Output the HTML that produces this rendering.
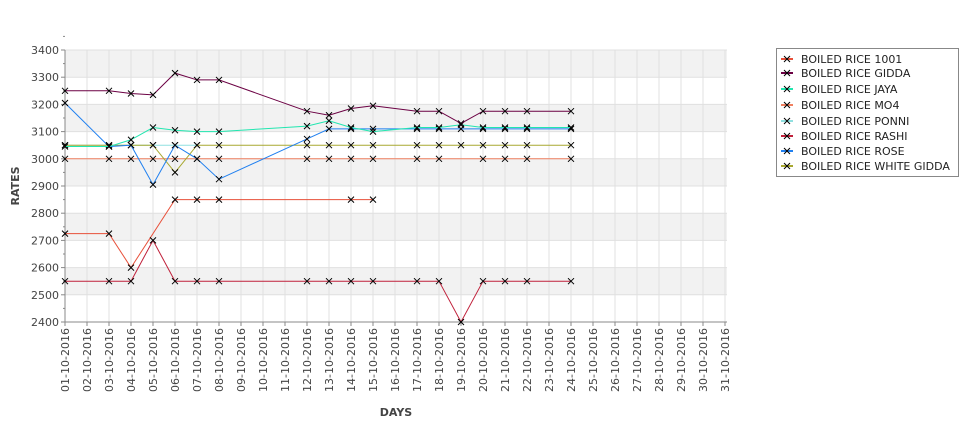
<!DOCTYPE html>
<html><head><meta charset="utf-8"><style>
html,body{margin:0;padding:0;background:#fff;}
svg{display:block;font-family:"DejaVu Sans","Liberation Sans",sans-serif;}
</style></head><body>
<svg id="chart" width="975" height="429"></svg>
<script>
const days = ["01","02","03","04","05","06","07","08","09","10","11","12","13","14","15","16","17","18","19","20","21","22","23","24","25","26","27","28","29","30","31"];
const yTicks = [2400,2500,2600,2700,2800,2900,3000,3100,3200,3300,3400];
const seriesNames = ["BOILED RICE 1001","BOILED RICE GIDDA","BOILED RICE JAYA","BOILED RICE MO4","BOILED RICE PONNI","BOILED RICE RASHI","BOILED RICE ROSE","BOILED RICE WHITE GIDDA"];
const seriesColors = ["#e8503a","#6b0043","#22e6b0","#f08060","#90e0e0","#c0203a","#2080f0","#a8a830"];
const s1001Days = [1,3,4,6,7,8,14,15];
const s1001Vals = [2725,2725,2600,2850,2850,2850,2850,2850];
const giddaDays = [1,3,4,5,6,7,8,12,13,14,15,17,18,19,20,21,22,24];
const giddaVals = [3250,3250,3240,3235,3315,3290,3290,3175,3160,3185,3195,3175,3175,3130,3175,3175,3175,3175];
const jayaDays = [1,3,4,5,6,7,8,12,13,14,15,17,18,19,20,21,22,24];
const jayaVals = [3045,3045,3070,3115,3105,3100,3100,3120,3140,3115,3100,3115,3115,3125,3115,3115,3115,3115];
const mo4Days = [1,3,4,5,6,7,8,12,13,14,15,17,18,20,21,22,24];
const mo4Vals = [3000,3000,3000,3000,3000,3000,3000,3000,3000,3000,3000,3000,3000,3000,3000,3000,3000];
const ponniDays = [1,3,4,5,6,7];
const ponniVals = [3050,3050,3050,3050,3050,3050];
const rashiDays = [1,3,4,5,6,7,8,12,13,14,15,17,18,19,20,21,22,24];
const rashiVals = [2550,2550,2550,2700,2550,2550,2550,2550,2550,2550,2550,2550,2550,2400,2550,2550,2550,2550];
const roseDays = [1,3,4,5,6,7,8,12,13,14,15,17,18,19,20,21,22,24];
const roseVals = [3205,3045,3050,2905,3050,3000,2925,3073,3110,3110,3110,3110,3110,3110,3110,3110,3110,3110];
const wgDays = [1,3,4,5,6,7,8,12,13,14,15,17,18,19,20,21,22,24];
const wgVals = [3050,3050,3050,3050,2950,3050,3050,3050,3050,3050,3050,3050,3050,3050,3050,3050,3050,3050];
const allDays=[s1001Days,giddaDays,jayaDays,mo4Days,ponniDays,rashiDays,roseDays,wgDays];
const allVals=[s1001Vals,giddaVals,jayaVals,mo4Vals,ponniVals,rashiVals,roseVals,wgVals];

const NS="http://www.w3.org/2000/svg";
const svg=document.getElementById('chart');
const L=65,R=727,T=50,B=322;
function xs(d){return L+(d-1)*22;}
function ys(v){return B-(v-2400)/1000*(B-T);}
function mk(tag,attrs,parent){const e=document.createElementNS(NS,tag);for(const k in attrs)e.setAttribute(k,attrs[k]);(parent||svg).appendChild(e);return e;}

const plot=mk('g',{});


for(let i=0;i<yTicks.length-1;i++){
  if((yTicks[i]/100)%2===1){
    const r=mk('rect',{x:L,y:ys(yTicks[i+1]),width:R-L,height:ys(yTicks[i])-ys(yTicks[i+1]),fill:'#f2f2f2'},plot);
    
    
  }
}
yTicks.forEach(v=>{
  const g=mk('line',{x1:L,x2:R,y1:ys(v),y2:ys(v),stroke:'#e0e0e0','stroke-width':1},plot);
  
  
  const t=mk('line',{x1:L-4,x2:L,y1:ys(v),y2:ys(v),stroke:'#888'});
  
  
  const m=mk('line',{x1:L-2,x2:L,y1:ys(v+50),y2:ys(v+50),stroke:'#888'});
  
  
  const lb=mk('text',{x:L-6,y:ys(v)+4,'text-anchor':'end','font-size':11,fill:'#444'});
  lb.textContent=v;
  
  
});
days.forEach((d,i)=>{
  const x=xs(i+1);
  const g=mk('line',{x1:x,x2:x,y1:T,y2:B,stroke:'#e0e0e0'},plot);
  
  
  const t=mk('line',{x1:x,x2:x,y1:B,y2:B+4,stroke:'#888'});
  
  
  const lb=mk('text',{x:0,y:0,'text-anchor':'end','font-size':11,fill:'#444',transform:`translate(${x+4},${328}) rotate(-90)`});
  lb.textContent=d+'-10-2016';
  
  
});
const ax1=mk('line',{x1:L,x2:L,y1:T,y2:B,stroke:'#888'});


const ax2=mk('line',{x1:L,x2:R,y1:B,y2:B,stroke:'#888'});



function cross(x,y,parent){
  const p=mk('path',{d:`M${x-3},${y-3}L${x+3},${y+3}M${x-3},${y+3}L${x+3},${y-3}`,stroke:'#000','stroke-width':1},parent);
  
  
}
const order=[4,3,7,0,5,6,2,1];
order.forEach(si=>{
  const g=mk('g',{});
  
  
  const pts=allDays[si].map((d,i)=>xs(d)+','+ys(allVals[si][i])).join(' ');
  const pl=mk('polyline',{points:pts,fill:'none',stroke:seriesColors[si],'stroke-width':1},g);
  
  
  allDays[si].forEach((d,i)=>cross(xs(d),ys(allVals[si][i]),g));
});

const yt=mk('text',{x:0,y:0,'text-anchor':'middle','font-size':11,'font-weight':'bold',fill:'#444',transform:'translate(19,186) rotate(-90)'});
yt.textContent='RATES';


const xt=mk('text',{x:396,y:416,'text-anchor':'middle','font-size':11,'font-weight':'bold',fill:'#444'});
xt.textContent='DAYS';



const lg=mk('g',{});


mk('rect',{x:776.5,y:48.5,width:182,height:128,fill:'#fff',stroke:'#888'},lg);
const ly=[59,73,89,105,121,136,151,166];
seriesNames.forEach((n,i)=>{
  const e=mk('g',{},lg);
  
  
  mk('line',{x1:781,x2:793,y1:ly[i],y2:ly[i],stroke:seriesColors[i],'stroke-width':2},e);
  cross(787,ly[i],e);
  const t=mk('text',{x:801,y:ly[i]+4,'font-size':11,fill:'#222'},e);
  t.textContent=n;
  
  
});
</script>
</body></html>
